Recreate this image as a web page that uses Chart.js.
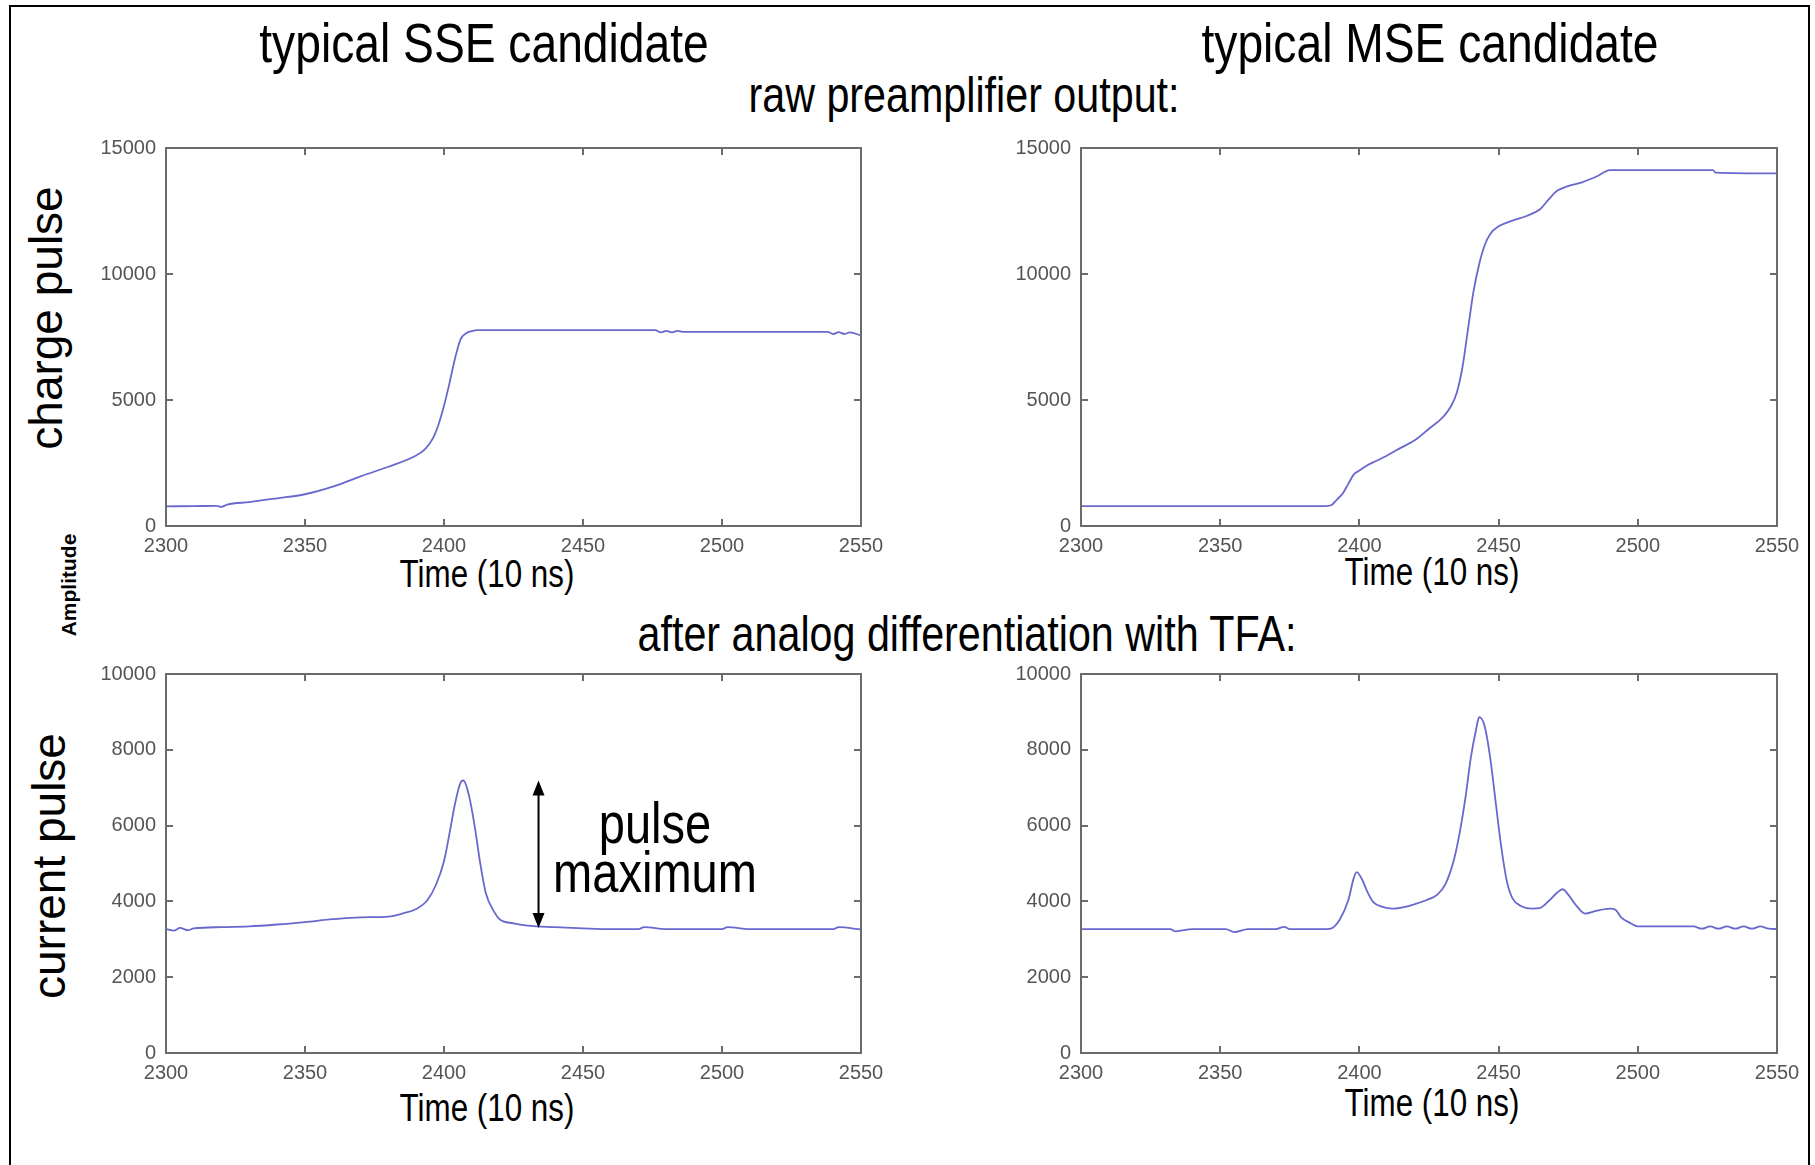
<!DOCTYPE html>
<html>
<head>
<meta charset="utf-8">
<title>SSE / MSE pulse shapes</title>
<script src="https://cdn.jsdelivr.net/npm/chart.js@4.4.0/dist/chart.umd.min.js"></script>
<style>
  body { margin: 0; background: #fff; width: 1815px; height: 1165px; overflow: hidden; position: relative; }
  .frame { position: absolute; left: 9px; top: 5px; width: 1797px; height: 1200px; border: 2px solid #000; }
  .txt { position: absolute; transform: translate(-50%, -50%) scaleX(0.825); white-space: nowrap; line-height: 1;
         font-family: "Liberation Sans", Arial, sans-serif; color: #000; }
  .rot { transform: translate(-50%, -50%) rotate(-90deg); }
  .plot { position: absolute; }
</style>
</head>
<body>
<div class="frame"></div>

<div class="txt" style="left:484px; top:43px; font-size:56px;">typical SSE candidate</div>
<div class="txt" style="left:1430px; top:43px; font-size:56px;">typical MSE candidate</div>
<div class="txt" style="left:964px; top:95px; font-size:50px;">raw preamplifier output:</div>
<div class="txt" style="left:967px; top:634px; font-size:50px;">after analog differentiation with TFA:</div>

<div class="txt rot" style="left:46px; top:318px; font-size:46px;">charge pulse</div>
<div class="txt rot" style="left:49px; top:866px; font-size:46px;">current pulse</div>
<div class="txt rot" style="left:68px; top:585px; font-size:21px; font-weight:bold;">Amplitude</div>

<div class="txt" style="left:487px; top:574px; font-size:38px;">Time (10 ns)</div>
<div class="txt" style="left:1432px; top:572px; font-size:38px;">Time (10 ns)</div>
<div class="txt" style="left:487px; top:1108px; font-size:38px;">Time (10 ns)</div>
<div class="txt" style="left:1432px; top:1103px; font-size:38px;">Time (10 ns)</div>

<div class="txt" style="left:655px; top:823px; font-size:57px;">pulse</div>
<div class="txt" style="left:655px; top:872px; font-size:57px;">maximum</div>

<div class="plot" id="sse-charge"><canvas></canvas></div>
<div class="plot" id="mse-charge"><canvas></canvas></div>
<div class="plot" id="sse-current"><canvas></canvas></div>
<div class="plot" id="mse-current"><canvas></canvas></div>

<script>
// time axis, in units of 10 ns
const timeTicks = [2300, 2350, 2400, 2450, 2500, 2550];
const chargeTicks = [0, 5000, 10000, 15000];
const currentTicks = [0, 2000, 4000, 6000, 8000, 10000];

// SSE candidate, raw preamplifier output
const sseChargeT = [2300, 2310, 2318, 2320, 2322, 2330, 2340, 2350, 2360, 2370, 2380, 2390, 2393, 2396,
  2398, 2400, 2402, 2404, 2406, 2408, 2410, 2412, 2420, 2440, 2460, 2476, 2478, 2480, 2482, 2484, 2486,
  2500, 2520, 2538, 2540, 2542, 2544, 2546, 2550];
const sseChargeV = [780, 790, 800, 760, 850, 950, 1100, 1260, 1560, 1970, 2350, 2800, 3030, 3480,
  4020, 4770, 5680, 6670, 7420, 7650, 7730, 7770, 7770, 7770, 7770, 7770, 7680, 7740, 7680, 7740, 7700,
  7700, 7700, 7700, 7620, 7690, 7620, 7680, 7560];

// MSE candidate, raw preamplifier output
const mseChargeT = [2300, 2388, 2390, 2392, 2394, 2396, 2398, 2400, 2403, 2406, 2410, 2415, 2420, 2425,
  2430, 2433, 2435, 2437, 2439, 2441, 2443, 2445, 2447, 2450, 2455, 2460, 2465, 2468, 2471, 2475, 2480,
  2485, 2490, 2527, 2528, 2550];
const mseChargeV = [790, 790, 830, 1060, 1290, 1670, 2050, 2200, 2420, 2580, 2800, 3110, 3410, 3860,
  4320, 4770, 5300, 6290, 7800, 9320, 10380, 11140, 11590, 11890, 12120, 12300, 12580, 12960, 13300, 13490, 13640,
  13860, 14120, 14120, 14020, 13990];

// SSE candidate, after differentiation
const sseCurrentT = [2300, 2303, 2305, 2308, 2310, 2320, 2330, 2340, 2350, 2360, 2370, 2380, 2385, 2390,
  2394, 2397, 2400, 2402, 2404, 2406, 2407, 2409, 2411, 2413, 2415, 2418, 2420, 2425, 2430, 2440, 2450,
  2460, 2470, 2472, 2480, 2490, 2500, 2502, 2510, 2520, 2530, 2540, 2542, 2550];
const sseCurrentV = [3270, 3230, 3300, 3240, 3290, 3320, 3340, 3390, 3455, 3530, 3580, 3600, 3680, 3800,
  4030, 4420, 5060, 5800, 6590, 7140, 7190, 6790, 6000, 5020, 4230, 3730, 3530, 3420, 3360, 3320, 3290,
  3270, 3270, 3320, 3270, 3270, 3270, 3320, 3270, 3270, 3270, 3270, 3320, 3260];

// MSE candidate, after differentiation
const mseCurrentT = [2300, 2310, 2320, 2332, 2334, 2340, 2352, 2355, 2360, 2370, 2373, 2375, 2380, 2388,
  2390, 2393, 2396, 2398, 2399, 2401, 2403, 2405, 2408, 2412, 2416, 2420, 2424, 2428, 2431, 2434, 2436,
  2438, 2440, 2442, 2443, 2445, 2447, 2449, 2451, 2453, 2455, 2458, 2462, 2465, 2468, 2471, 2473, 2475,
  2478, 2481, 2485, 2490, 2492, 2494, 2497, 2500, 2520, 2523, 2526, 2529, 2532, 2535, 2538, 2541, 2544,
  2547, 2550];
const mseCurrentV = [3270, 3270, 3270, 3270, 3210, 3270, 3270, 3190, 3270, 3270, 3330, 3270, 3270, 3270,
  3290, 3530, 4030, 4620, 4770, 4570, 4230, 3980, 3860, 3810, 3850, 3930, 4030, 4180, 4470, 5110, 5800,
  6690, 7780, 8570, 8860, 8620, 7780, 6590, 5410, 4520, 4080, 3880, 3810, 3830, 4010, 4230, 4320, 4180,
  3880, 3680, 3750, 3810, 3780, 3580, 3440, 3340, 3340, 3280, 3340, 3280, 3340, 3280, 3340, 3280, 3340,
  3280, 3270];

// where the "pulse maximum" arrow sits, and the baseline it starts from
const arrowTime = 2434;
const arrowBase = 3300;

const LINE = "rgb(104, 104, 206)";
const AXIS = "#6b6b6b";
const TICK = "#555";
const TICK_FONT = { family: "'Liberation Sans', Arial, sans-serif", size: 20 };
const AXIS_W = 90, AXIS_H = 50, PAD_T = 20, PAD_R = 40;

// matlab-style box with inward tick marks on all four sides
const axesBox = {
  id: "axesBox",
  afterDatasetsDraw(chart) {
    const { ctx, chartArea: a, scales } = chart;
    ctx.save();
    ctx.strokeStyle = AXIS;
    ctx.lineWidth = 2;
    ctx.strokeRect(a.left, a.top, a.right - a.left, a.bottom - a.top);
    ctx.beginPath();
    scales.x.ticks.forEach((t) => {
      const px = Math.round(scales.x.getPixelForValue(t.value));
      ctx.moveTo(px, a.bottom); ctx.lineTo(px, a.bottom - 7);
      ctx.moveTo(px, a.top); ctx.lineTo(px, a.top + 7);
    });
    scales.y.ticks.forEach((t) => {
      const py = Math.round(scales.y.getPixelForValue(t.value));
      ctx.moveTo(a.left, py); ctx.lineTo(a.left + 7, py);
      ctx.moveTo(a.right, py); ctx.lineTo(a.right - 7, py);
    });
    ctx.stroke();
    ctx.restore();
  },
};

// double-headed arrow from the baseline up to the pulse peak
const pulseArrow = {
  id: "pulseArrow",
  afterDatasetsDraw(chart) {
    const { ctx, scales: { x, y } } = chart;
    const px = x.getPixelForValue(arrowTime);
    const top = y.getPixelForValue(Math.max(...sseCurrentV));
    const bottom = y.getPixelForValue(arrowBase);
    const head = 15, half = 6;
    ctx.save();
    ctx.strokeStyle = "#000";
    ctx.fillStyle = "#000";
    ctx.lineWidth = 2;
    ctx.beginPath();
    ctx.moveTo(px, top + head - 2);
    ctx.lineTo(px, bottom - head + 2);
    ctx.stroke();
    ctx.beginPath();
    ctx.moveTo(px, top); ctx.lineTo(px - half, top + head); ctx.lineTo(px + half, top + head);
    ctx.closePath();
    ctx.moveTo(px, bottom); ctx.lineTo(px - half, bottom - head); ctx.lineTo(px + half, bottom - head);
    ctx.closePath();
    ctx.fill();
    ctx.restore();
  },
};

function makePlot(id, box, t, v, yTicks, extra = []) {
  const wrap = document.getElementById(id);
  const w = box.w + AXIS_W + PAD_R;
  const h = box.h + PAD_T + AXIS_H;
  wrap.style.left = box.left - AXIS_W + "px";
  wrap.style.top = box.top - PAD_T + "px";
  const canvas = wrap.querySelector("canvas");
  canvas.width = w;
  canvas.height = h;
  canvas.style.width = w + "px";
  canvas.style.height = h + "px";

  const common = { color: TICK, font: TICK_FONT, autoSkip: false, maxRotation: 0, callback: (val) => String(val) };

  return new Chart(canvas, {
    type: "line",
    data: {
      datasets: [{
        data: t.map((x, i) => ({ x, y: v[i] })),
        borderColor: LINE,
        borderWidth: 1.8,
        pointRadius: 0,
        cubicInterpolationMode: "monotone",
        fill: false,
      }],
    },
    options: {
      responsive: false,
      animation: false,
      devicePixelRatio: 1,
      layout: { padding: { left: 0, top: PAD_T, right: PAD_R, bottom: 0 } },
      plugins: { legend: { display: false }, tooltip: { enabled: false } },
      scales: {
        x: {
          type: "linear",
          min: timeTicks[0],
          max: timeTicks[timeTicks.length - 1],
          afterBuildTicks: (s) => { s.ticks = timeTicks.map((value) => ({ value })); },
          afterFit: (s) => { s.height = AXIS_H; },
          grid: { display: false },
          border: { display: false },
          ticks: { ...common, padding: 0 },
        },
        y: {
          type: "linear",
          min: yTicks[0],
          max: yTicks[yTicks.length - 1],
          afterBuildTicks: (s) => { s.ticks = yTicks.map((value) => ({ value })); },
          afterFit: (s) => { s.width = AXIS_W; },
          grid: { display: false },
          border: { display: false },
          ticks: { ...common, padding: 2 },
        },
      },
    },
    plugins: [axesBox, ...extra],
  });
}

makePlot("sse-charge", { left: 166, top: 148, w: 695, h: 378 }, sseChargeT, sseChargeV, chargeTicks);
makePlot("mse-charge", { left: 1081, top: 148, w: 696, h: 378 }, mseChargeT, mseChargeV, chargeTicks);
makePlot("sse-current", { left: 166, top: 674, w: 695, h: 379 }, sseCurrentT, sseCurrentV, currentTicks, [pulseArrow]);
makePlot("mse-current", { left: 1081, top: 674, w: 696, h: 379 }, mseCurrentT, mseCurrentV, currentTicks);
</script>
</body>
</html>
